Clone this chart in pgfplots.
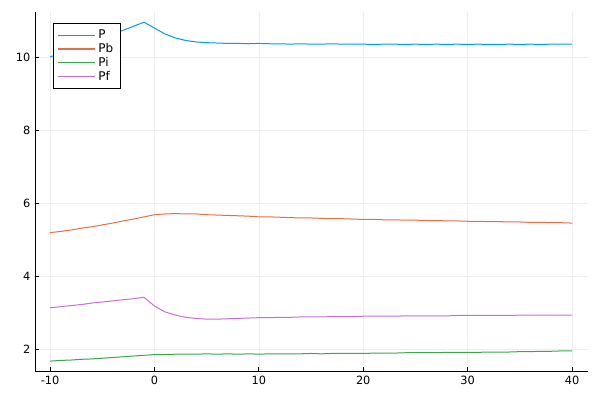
\documentclass[border=0pt]{standalone}
\usepackage{pgfplots}
\pgfplotsset{compat=1.18}
\usepackage{pgfplotstable}
\usepackage{fontspec}
\setmainfont{DejaVu Sans}
\definecolor{c1}{RGB}{0,154,250}
\definecolor{c2}{RGB}{227,111,71}
\definecolor{c3}{RGB}{62,164,78}
\definecolor{c4}{RGB}{195,113,210}
\pgfplotstableread{
x P Pb Pi Pf
-10 10.00 5.19 1.67 3.13
-9 10.10 5.22 1.69 3.16
-8 10.21 5.26 1.70 3.19
-7 10.31 5.31 1.72 3.22
-6 10.42 5.35 1.73 3.26
-5 10.52 5.40 1.75 3.29
-4 10.63 5.45 1.77 3.32
-3 10.73 5.51 1.79 3.35
-2 10.84 5.56 1.81 3.38
-1 10.95 5.62 1.83 3.42
0 10.79 5.68 1.85 3.18
1 10.63 5.70 1.85 3.02
2 10.52 5.71 1.86 2.93
3 10.45 5.70 1.86 2.87
4 10.41 5.70 1.86 2.84
5 10.39 5.68 1.87 2.82
6 10.38 5.67 1.86 2.82
7 10.37 5.66 1.87 2.83
8 10.37 5.65 1.86 2.84
9 10.36 5.64 1.87 2.85
10 10.37 5.62 1.86 2.86
11 10.36 5.62 1.87 2.86
12 10.36 5.61 1.87 2.87
13 10.35 5.60 1.87 2.87
14 10.36 5.59 1.87 2.88
15 10.35 5.59 1.88 2.88
16 10.35 5.58 1.87 2.88
17 10.36 5.57 1.88 2.89
18 10.35 5.57 1.88 2.89
19 10.35 5.56 1.88 2.89
20 10.35 5.55 1.88 2.90
21 10.34 5.55 1.89 2.90
22 10.35 5.54 1.89 2.90
23 10.35 5.54 1.89 2.90
24 10.34 5.53 1.90 2.91
25 10.35 5.53 1.90 2.91
26 10.34 5.52 1.90 2.91
27 10.35 5.52 1.90 2.91
28 10.34 5.51 1.91 2.91
29 10.35 5.51 1.91 2.92
30 10.34 5.50 1.91 2.92
31 10.35 5.50 1.91 2.92
32 10.34 5.49 1.92 2.92
33 10.34 5.49 1.92 2.92
34 10.35 5.48 1.92 2.92
35 10.34 5.48 1.93 2.93
36 10.35 5.47 1.93 2.93
37 10.34 5.47 1.94 2.93
38 10.35 5.46 1.94 2.93
39 10.35 5.46 1.95 2.93
40 10.35 5.45 1.95 2.93
}\data
\begin{document}
\begin{tikzpicture}
\useasboundingbox (0,0) rectangle (450pt,300pt);
\begin{axis}[
  at={(26.25pt,21.75pt)}, anchor=south west,
  scale only axis, width=414.75pt, height=269.25pt,
  xmin=-11.44, xmax=41.53, ymin=1.40, ymax=11.23,
  axis x line*=bottom, axis y line*=left,
  axis line style={black, line width=0.6pt, -},
  xtick={-10,0,10,20,30,40}, ytick={2,4,6,8,10},
  tick align=inside, major tick length=3pt,
  tick style={black, line width=0.5pt},
  grid=major, grid style={black!7, line width=0.4pt},
  ticklabel style={font=\fontsize{8.5}{9}\selectfont},
  /pgf/number format/assume math mode=true,
  legend style={at={(53pt*0.75-26.25pt,300pt-23pt*0.75-21.75pt)}, anchor=north west,
    draw=black, line width=0.5pt, font=\fontsize{9}{9}\selectfont,
    inner xsep=3pt, inner ysep=3pt, row sep=-2pt},
  legend cell align=left,
  legend image code/.code={\draw[#1,line width=0.8pt] (0pt,0pt) -- (28pt,0pt);},
  every axis plot/.append style={line width=0.75pt},
]
\addplot[c1] table[x=x,y=P] {\data};
\addplot[c2] table[x=x,y=Pb] {\data};
\addplot[c3] table[x=x,y=Pi] {\data};
\addplot[c4] table[x=x,y=Pf] {\data};
\legend{P,Pb,Pi,Pf}
\end{axis}
\end{tikzpicture}
\end{document}
